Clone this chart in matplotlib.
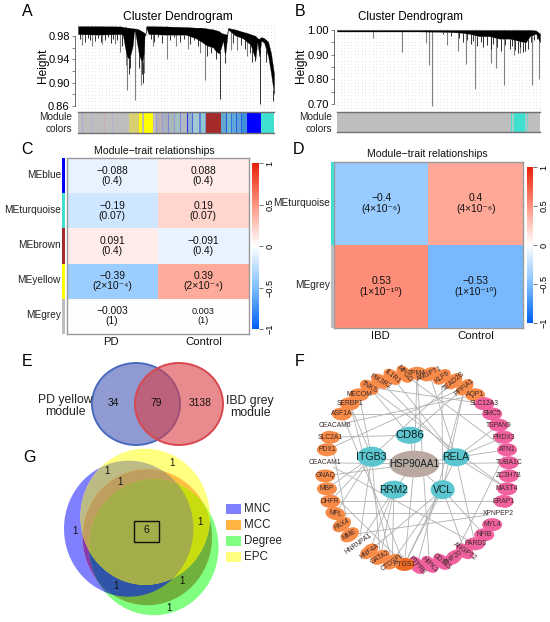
import math
from itertools import combinations
import numpy as np
import matplotlib
matplotlib.use("Agg")
import matplotlib.pyplot as plt
from matplotlib.colors import LinearSegmentedColormap
from matplotlib.patches import Ellipse, Polygon, Rectangle
from matplotlib.cm import ScalarMappable
from matplotlib.colors import Normalize

plt.rcParams['font.family'] = ['Liberation Sans', 'DejaVu Sans']

# ---------- data ----------
a_x = [0, .10, .22, .23, .24, .25, .26, .27, .28, .285, .29, .30, .31, .32, .33, .335, .34, .344, .348, .36, .45, .55, .60, .63, .65, .67, .69, .70, .71, .72, .73, .74, .75, .76, .765, .80, .84, .88, .895, .905, .915, .925, .935, .95, .97, .985, 1.0]
a_top = [.9965, .9965, .996, .995, .995, .994, .994, .993, .993, .9925, .9925, .992, .991, .989, .987, .986, .985, .982, .9965, .9965, .996, .995, .994, .994, .993, .992, .991, .99, .989, .988, .985, .984, .983, .982, .9935, .991, .987, .983, .981, .980, .976, .975, .978, .976, .970, .950, .915]
a_low = [.983, .982, .983, .980, .960, .945, .940, .950, .965, .985, .990, .970, .950, .940, .935, .950, .982, .981, .994, .983, .982, .982, .976, .970, .965, .962, .960, .955, .952, .950, .960, .972, .945, .974, .991, .981, .976, .965, .950, .940, .970, .945, .972, .968, .945, .915, .880]
a_grey_x = [.02, .07, .12, .19, .215, .245, .252, .29, .32, .337, .385, .452, .50, .56, .62, .648, .78, .81, .86]
a_grey_low = [.965, .962, .966, .966, .952, .930, .888, .871, .895, .917, .962, .940, .962, .958, .950, .905, .956, .955, .945]
a_black_x = [.01, .035, .05, .06, .085, .10, .115, .14, .155, .17, .18, .20, .225, .258, .265, .31, .325, .33, .37, .39, .41, .43, .47, .49, .52, .54, .57, .59, .61, .66, .68, .702, .724, .75, .79, .83, .85, .875, .89, .903, .929, .96, .98, .997]
a_black_low = [.974, .970, .976, .972, .971, .977, .969, .973, .978, .968, .975, .972, .962, .915, .925, .925, .915, .90, .975, .970, .978, .968, .972, .978, .969, .975, .966, .972, .962, .945, .950, .94, .872, .933, .968, .965, .958, .95, .935, .937, .864, .935, .925, .869]
a_mod_w = [10, 3, 25, 2, 30, 2, 20, 2, 44, 25, 10, 5, 25, 8, 2, 12, 3, 15, 3, 12, 2, 14, 3, 16, 3, 10, 3, 18, 3, 12, 2, 42, 12, 3, 10, 3, 12, 3, 11, 3, 13, 38, 34]
a_mod_c = ['#BEBEBE', '#A8A8D8', '#BEBEBE', '#B0B0D0', '#BEBEBE', '#C8B0B0', '#BEBEBE', '#B0B0D0', '#BEBEBE', '#D8D070', '#FFFF00', '#BEBEB0', '#FFFF00', '#BEBEBE', '#9898D8', '#B8B0B0', '#9898D8', '#A8B0C0', '#8080E0', '#A8B8B8', '#9898D8', '#A0C0C0', '#8080E0', '#B0B8C0', '#3030E0', '#90B0D0', '#5060E0', '#A0C8D0', '#6080E0', '#90C8D0', '#8090D0', '#A52A2A', '#60A8D0', '#3050E0', '#70B8D0', '#3070E0', '#60A8D8', '#2060E0', '#60A0D8', '#2060E0', '#4090D8', '#0000FF', '#40E0D0']

b_x = [0, .2, .4, .5, .55, .6, .65, .7, .75, .8, .85, .9, .93, .95, .98, 1.0]
b_top = [1.0, 1.0, 1.0, 1.0, 1.0, 1.0, 1.0, 1.0, 1.0, 1.0, 1.0, 1.0, 1.0, 1.0, .998, .985]
b_low = [.994, .994, .994, .993, .992, .99, .985, .975, .975, .965, .965, .955, .950, .975, .985, .950]
b_grey_x = [.175, .32, .44, .454, .469, .541, .595, .634, .68, .759, .782, .825, .87, .90, .959, .997]
b_grey_low = [.969, .912, .946, .858, .692, .939, .916, .862, .761, .868, .845, .777, .90, .905, .778, .80]
b_black_x = [.52, .56, .60, .62, .64, .66, .67, .69, .71, .72, .74, .76, .77, .79, .81, .83, .85, .86, .875, .89, .90, .915, .925, .94, .955, .97, .985]
b_black_low = [.985, .975, .968, .95, .96, .945, .955, .935, .95, .93, .94, .925, .945, .93, .915, .94, .925, .935, .92, .905, .93, .91, .915, .925, .95, .96, .965]
b_mod_w = [474, 2, 46, 3, 7, 3, 30, 4, 3, 3, 35]
b_mod_c = ['#BEBEBE', '#A0D0CC', '#BEBEBE', '#40E0D0', '#A0D0CC', '#40E0D0', '#40E0D0', '#90D0C8', '#BEBEBE', '#70D8CC', '#BEBEBE']

c_rows = ['MEblue', 'MEturquoise', 'MEbrown', 'MEyellow', 'MEgrey']
c_cols = ['PD', 'Control']
c_side = ['#0000FF', '#40E0D0', '#A52A2A', '#FFFF00', '#BEBEBE']
c_vals = [[-.088, .088], [-.19, .19], [.091, -.091], [-.39, .39], [-.003, .003]]
c_text = [['−0.088\n(0.4)', '0.088\n(0.4)'], ['−0.19\n(0.07)', '0.19\n(0.07)'], ['0.091\n(0.4)', '−0.091\n(0.4)'],
          ['−0.39\n(2×10⁻⁴)', '0.39\n(2×10⁻⁴)'], ['−0.003\n(1)', '0.003\n(1)']]

d_rows = ['MEturquoise', 'MEgrey']
d_cols = ['IBD', 'Control']
d_side = ['#40E0D0', '#BEBEBE']
d_vals = [[-.4, .4], [.53, -.53]]
d_text = [['−0.4\n(4×10⁻⁶)', '0.4\n(4×10⁻⁶)'], ['0.53\n(1×10⁻¹⁰)', '−0.53\n(1×10⁻¹⁰)']]

venn_e_counts = ['34', '79', '3138']
venn_g_names = ['MNC', 'MCC', 'Degree', 'EPC']
venn_g_legend = ['#8080FF', '#FFB540', '#80FF80', '#FFFF80']

outer_nodes = ['TPM4', 'ANGPT1', 'KLF6', 'TEAD2B', 'PPFIA1', 'AQP1', 'SLC12A3', 'SMC5', 'TSPAN9', 'PRDX3', 'ATN1', 'TUBA1C',
               'ZC3H7B', 'MAST4', 'ERAP1', 'XPNPEP2', 'MYL4', 'NFIB', 'PARD3', 'ANGPT2', 'PHF20', 'CD38S', 'HIPK3', 'PTPRE',
               'PTGS1', 'CTDSPL', 'GATA2', 'HNF4A', 'HNRNPA1', 'MME', 'PAX4', 'MPL', 'DHFR', 'MBP', 'GNAQ', 'CEACAM1', 'PDX1',
               'SLC2A1', 'CEACAM6', 'ASF1A', 'SERBP1', 'MECOM', 'TNKS', 'PIK3R2', 'IL1R1', 'MPGD']
outer_rot = [0, 25, 35, 40, 40, 0, 0, 0, 0, 0, 0, 0, 0, 0, 0, 0, 0, 0, 0, -35, 35, -40, -45, -50,
             0, 35, 30, 35, 35, 30, 30, -10, 0, 0, 0, 0, 0, 0, 0, 0, 0, 0, -30, -30, -40, -50]
edges = [
 ('HSP90AA1', 'CD86'), ('HSP90AA1', 'ITGB3'), ('HSP90AA1', 'RELA'), ('HSP90AA1', 'RRM2'), ('HSP90AA1', 'VCL'),
 ('HSP90AA1', 'TUBA1C'), ('HSP90AA1', 'GNAQ'), ('HSP90AA1', 'PTGS1'), ('HSP90AA1', 'TPM4'), ('HSP90AA1', 'CEACAM1'),
 ('CD86', 'TNKS'), ('CD86', 'PPFIA1'), ('CD86', 'SLC2A1'),
 ('ITGB3', 'MBP'), ('ITGB3', 'DHFR'), ('ITGB3', 'MPL'), ('ITGB3', 'HNRNPA1'), ('ITGB3', 'GATA2'), ('ITGB3', 'SERBP1'), ('ITGB3', 'TEAD2B'), ('ITGB3', 'MECOM'),
 ('RELA', 'PRDX3'), ('RELA', 'ATN1'), ('RELA', 'MAST4'), ('RELA', 'PTGS1'), ('RELA', 'TSPAN9'), ('RELA', 'PIK3R2'), ('RELA', 'IL1R1'), ('RELA', 'PARD3'), ('RELA', 'ANGPT1'),
 ('RRM2', 'CTDSPL'), ('RRM2', 'GATA2'), ('RRM2', 'HNF4A'), ('RRM2', 'HNRNPA1'),
 ('VCL', 'PTGS1'), ('VCL', 'CTDSPL'), ('VCL', 'ANGPT2'), ('VCL', 'NFIB'), ('VCL', 'PPFIA1'), ('VCL', 'KLF6'), ('VCL', 'HNF4A'),
 ('ASF1A', 'SMC5'), ('SLC12A3', 'TNKS'), ('CEACAM6', 'AQP1'), ('PDX1', 'PPFIA1'), ('DHFR', 'ERAP1'),
 ('MPL', 'XPNPEP2'), ('MME', 'XPNPEP2'), ('MBP', 'PTGS1'), ('SERBP1', 'CTDSPL'), ('ASF1A', 'PTGS1'), ('SLC2A1', 'MME'),
 ('MPGD', 'ATN1'), ('TPM4', 'HIPK3'), ('TNKS', 'MAST4'), ('CEACAM1', 'PARD3'),
 ('ATN1', 'PHF20'), ('PPFIA1', 'PTPRE'),
]

# ---------- helpers ----------
W, H = 550, 622
fig = plt.figure(figsize=(W / 100, H / 100), dpi=100, facecolor='white')

def box(x0, y0, x1, y1):
    return fig.add_axes([x0 / W, 1 - y1 / H, (x1 - x0) / W, (y1 - y0) / H])

ov = fig.add_axes([0, 0, 1, 1], zorder=5)
ov.set_xlim(0, W); ov.set_ylim(H, 0); ov.axis('off'); ov.patch.set_alpha(0)

for s, x, y in [('A', 27, 12), ('B', 300, 11), ('C', 27, 149), ('D', 299, 149), ('E', 27, 362), ('F', 300, 362), ('G', 29, 457)]:
    ov.text(x, y, s, fontsize=11.5, ha='center', va='center')

def dendro(x0, y0, x1, y1, ylim, major, minor, xs, top, low, gx_, gl, kx, kl, title, tfs, tx, hx, hy, mw, mc, lab_x, strip_y):
    ax = box(x0, y0, x1, y1)
    ax.set_xlim(0, 1); ax.set_ylim(*ylim)
    gx, gy = np.meshgrid(np.linspace(0, 1, 58), np.linspace(ylim[0], ylim[1], 26))
    ax.scatter(gx.ravel(), gy.ravel(), s=.3, color='#D8D8D8', linewidths=0, zorder=1)
    ax.vlines(gx_, gl, np.interp(gx_, xs, top), color='#808080', lw=.8, zorder=2)
    ax.vlines(kx, kl, np.interp(kx, xs, low), color='#111111', lw=.6, zorder=2)
    ax.fill_between(xs, low, top, color='black', lw=.2, zorder=3)
    for s in ('top', 'right', 'bottom'):
        ax.spines[s].set_visible(False)
    ax.spines['left'].set_position(('outward', 2))
    ax.spines['left'].set_color('#555555'); ax.spines['left'].set_linewidth(.6)
    ax.spines['left'].set_bounds(min(major), max(major))
    ax.set_xticks([])
    ax.set_yticks(major); ax.set_yticks(minor, minor=True)
    ax.set_yticklabels(['%.2f' % v for v in major], fontsize=8)
    ax.tick_params(axis='y', which='both', length=2.5, width=.5, color='#555555', pad=1.5)
    ov.text(tx, 17, title, fontsize=tfs, ha='center', va='center')
    ov.text(hx, hy, 'Height', fontsize=8.6, rotation=90, ha='center', va='center')
    st = box(x0, strip_y[0], x1, strip_y[1])
    edges_ = np.cumsum([0] + mw)
    st.bar(edges_[:-1], 1, width=mw, align='edge', color=mc, lw=0)
    st.set_xlim(0, edges_[-1]); st.set_ylim(0, 1)
    st.set_xticks([]); st.set_yticks([])
    for s in ('left', 'right'):
        st.spines[s].set_visible(False)
    for s in ('top', 'bottom'):
        st.spines[s].set_color('#707070'); st.spines[s].set_linewidth(1.0)
    ov.text(lab_x, 123, 'Module\ncolors', fontsize=7.2, ha='right', va='center', linespacing=1.25, color='#222222', multialignment='right')

dendro(78, 25, 274, 108, (.8565, .9985), [.98, .94, .90, .86], [.96, .92, .88], a_x, a_top, a_low, a_grey_x, a_grey_low, a_black_x, a_black_low,
       'Cluster Dendrogram', 8.7, 178, 43, 66, a_mod_w, a_mod_c, 72, (112, 133))
dendro(337, 29, 540, 108, (.684, 1.004), [1.0, .9, .8, .7], [.95, .85, .75], b_x, b_top, b_low, b_grey_x, b_grey_low, b_black_x, b_black_low,
       'Cluster Dendrogram', 8.4, 410, 301, 66, b_mod_w, b_mod_c, 332, (112, 132))

cmap = LinearSegmentedColormap.from_list('bwr_wgcna', [(0, '#0060F0'), (.25, '#80BFFF'), (.5, '#FFFFFF'), (.75, '#FF9480'), (1, '#E82008')])

def heat(x0, y0, x1, y1, vals, texts, rows, cols, side, side_x, lab_x, col_y, cb, title_y, title_x):
    ax = box(x0, y0, x1, y1)
    ax.imshow(vals, cmap=cmap, vmin=-1, vmax=1, aspect='auto')
    ax.set_xticks([]); ax.set_yticks([])
    for s in ax.spines.values():
        s.set_color('#9A9A9A'); s.set_linewidth(1.0)
    for i, row in enumerate(texts):
        for j, t in enumerate(row):
            fs = 6.6 if t.startswith('0.003') else 7.4
            ax.text(j, i, t, ha='center', va='center', fontsize=fs, linespacing=1.02, color='#111111')
    n = len(rows)
    ra = box(side_x[0], y0, side_x[1], y1)
    ra.barh(range(n), 1, height=1, left=0, color=side, lw=0)
    ra.set_xlim(0, 1); ra.set_ylim(n - .5, -.5); ra.axis('off')
    rh = (y1 - y0) / n
    for i, r in enumerate(rows):
        ov.text(lab_x, y0 + rh * (i + .5) - 1, r, ha='right', va='center', fontsize=7.3, color='#222222')
    cw = (x1 - x0) / len(cols)
    for j, c in enumerate(cols):
        ov.text(x0 + cw * (j + .5) - (1 if j == 0 else 0), col_y, c, ha='center', va='center', fontsize=8.2, color='#111111')
    cax = box(*cb)
    cbar = fig.colorbar(ScalarMappable(Normalize(-1, 1), cmap), cax=cax, ticks=[-1, -.5, 0, .5, 1])
    cbar.outline.set_visible(False)
    cbar.ax.set_yticklabels(['−1', '−0.5', '0', '0.5', '1'], rotation=90, va='center', fontsize=6.6)
    cbar.ax.tick_params(length=3, width=.5, pad=1.5, color='#444444')
    ov.text(title_x, title_y, 'Module−trait relationships', ha='center', va='center', fontsize=7.6, color='#111111')

heat(66.5, 158, 249, 334, c_vals, c_text, c_rows, c_cols, c_side, (62, 64.5), 61, 342, (252, 163, 259, 329), 151, 154)
heat(334, 162, 523, 328, d_vals, d_text, d_rows, d_cols, d_side, (331, 333.5), 330, 336, (527, 167, 533, 323), 154, 427)

# ---------- Venn E ----------
ov.add_patch(Ellipse((136, 404), 88, 82, fc=(.27, .35, .70, .6), ec='#4A6CC0', lw=1.4))
ov.add_patch(Ellipse((179, 404), 88, 82, fc=(.86, .24, .27, .6), ec='#D84850', lw=1.4))
for x, t in zip((113, 156, 200), venn_e_counts):
    ov.text(x, 403, t, ha='center', va='center', fontsize=7.4, color='#111111')
ov.text(65, 406, 'PD yellow\nmodule', fontsize=8.8, ha='center', va='center', linespacing=1.05, color='#222222')
ov.text(250, 407, 'IBD grey\nmodule', fontsize=8.8, ha='center', va='center', linespacing=1.05, color='#222222')

# ---------- Venn G (each overlap painted with its own colour) ----------
g_ell = {'B': (128.7, 528.7), 'O': (147.3, 537.2), 'G': (153.8, 547.2), 'Y': (145.2, 516.7)}
g_rx, g_ry = 64.7, 68.0
g_pivot = (145.7, 530.0)
region_col = {'B': '#8080FF', 'O': '#FFC080', 'G': '#80FF80', 'Y': '#FFFF80',
              'BY': '#BDBB85', 'OY': '#FFBF40', 'GY': '#C0FF40', 'BO': '#8A3AB0', 'BG': '#4060B0', 'OG': '#70B03C',
              'BOY': '#BF9F5F', 'BGY': '#A0B060', 'OGY': '#C8DC10', 'BOG': '#2F55A8', 'BOGY': '#A3AD4A'}
theta = np.linspace(0, 2 * np.pi, 720, endpoint=False)

def radial(key):
    cx_, cy_ = g_ell[key]
    dx, dy = g_pivot[0] - cx_, g_pivot[1] - cy_
    ct, st_ = np.cos(theta), np.sin(theta)
    a = (ct / g_rx) ** 2 + (st_ / g_ry) ** 2
    b = 2 * (dx * ct / g_rx ** 2 + dy * st_ / g_ry ** 2)
    c = (dx / g_rx) ** 2 + (dy / g_ry) ** 2 - 1
    return (-b + np.sqrt(b * b - 4 * a * c)) / (2 * a)

for k in range(1, 5):
    for combo in combinations('BOGY', k):
        r = np.min([radial(q) for q in combo], axis=0)
        pts = np.c_[g_pivot[0] + r * np.cos(theta), g_pivot[1] + r * np.sin(theta)]
        ov.add_patch(Polygon(pts, closed=True, fc=region_col[''.join(combo)], ec='none', zorder=1))
for x, y in [(107, 471), (172, 463), (120, 482), (75, 531), (200, 522), (116, 586), (182, 581), (169, 608)]:
    ov.text(x, y, '1', fontsize=7, ha='center', va='center', color='#111111', zorder=3)
ov.add_patch(Rectangle((133.5, 520.7), 25, 21, fc='none', ec='#111111', lw=1, zorder=3))
ov.text(146, 530, '6', fontsize=7.5, ha='center', va='center', color='#111111', zorder=3)
for i, (n, c) in enumerate(zip(venn_g_names, venn_g_legend)):
    y = 509 + i * 16
    ov.add_patch(Rectangle((226, y - 5), 15, 10, fc=c, ec='none'))
    ov.text(244, y, n, fontsize=8.3, va='center', ha='left', color='#222222')

# ---------- Network F ----------
cx, cy, rx, ry = 417, 469.3, 92, 96
pos = {}
for i, n in enumerate(outer_nodes):
    t = math.radians(90 - i * 360 / len(outer_nodes))
    pos[n] = (cx + rx * math.cos(t), cy - ry * math.sin(t))
hubs = {'HSP90AA1': (414.3, 464, 25, 13.3, '#B9A9A1', 7.1), 'CD86': (409.7, 435.3, 14, 8.5, '#5CC6D0', 8),
        'ITGB3': (371.7, 456.7, 14.5, 10, '#5CC6D0', 7.6), 'RELA': (456, 457.3, 13.5, 9, '#5CC6D0', 7.4),
        'RRM2': (394, 489.7, 13.5, 9, '#5CC6D0', 7.3), 'VCL': (442.7, 489.7, 12, 9.5, '#5CC6D0', 7.4)}
for h, v in hubs.items():
    pos[h] = v[:2]
for a, b in edges:
    ov.plot([pos[a][0], pos[b][0]], [pos[a][1], pos[b][1]], color='#B0B0B0', lw=.6, zorder=1, solid_capstyle='round')
orange, pink, dark = '#F98B48', '#F2619F', '#EE6A22'
no_fill = {'CEACAM6', 'CEACAM1', 'XPNPEP2', 'HNRNPA1'}
for i, n in enumerate(outer_nodes):
    x, y = pos[n]
    col = dark if n == 'PTGS1' else (pink if 6 <= i <= 23 else orange)
    if n in no_fill:
        col = 'white'
    ov.add_patch(Ellipse((x, y), 20, 13, angle=-outer_rot[i], fc=col, ec='none', zorder=2))
    ov.text(x, y, n, fontsize=4.9, rotation=outer_rot[i], rotation_mode='anchor', ha='center', va='center',
            color='#3A2A2A', zorder=3)
for h, (x, y, a, b, c, fs) in hubs.items():
    ov.add_patch(Ellipse((x, y), 2 * a, 2 * b, fc=c, ec='none', zorder=2))
    ov.text(x, y, h, fontsize=fs, ha='center', va='center', color='#10201F', zorder=3)

fig.savefig('out.png', dpi=100)
